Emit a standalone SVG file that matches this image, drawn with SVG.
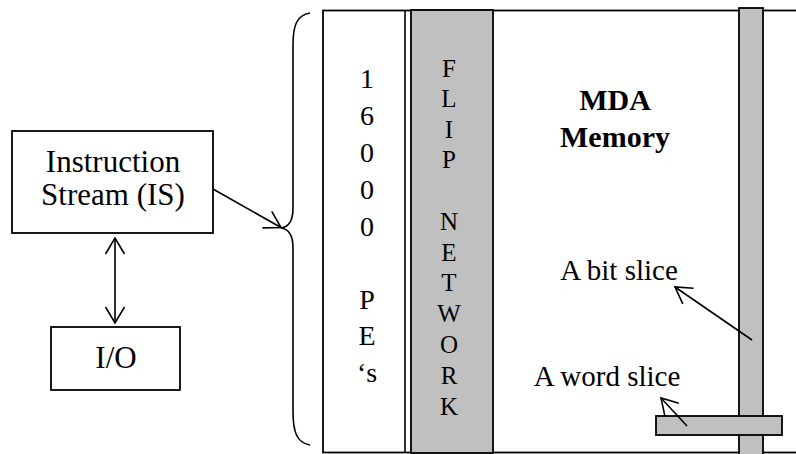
<svg xmlns="http://www.w3.org/2000/svg" width="796" height="454" viewBox="0 0 796 454" font-family="Liberation Serif">
<defs>
<style>
svg text, text, .tx{font-family:"Liberation Serif", serif !important;fill:#000;text-anchor:middle}
.box{fill:#fff;stroke:#000;stroke-width:1.8}
.gray{fill:#c0c0c0;stroke:#000;stroke-width:1.8}
.ln{fill:none;stroke:#000;stroke-width:1.6}
.bold{font-weight:bold}
</style>
<marker id="ah" viewBox="-20 -12 22 24" markerWidth="22" markerHeight="24" refX="0" refY="0" orient="auto-start-reverse" markerUnits="userSpaceOnUse" overflow="visible">
<path d="M-16,-9.5 L0,0 L-16,9.5" fill="none" stroke="#000" stroke-width="1.6"/>
</marker>
</defs>

<g id="memory-frame">
<rect x="323" y="10.5" width="480" height="442" class="box"/>
<line x1="405" y1="10.5" x2="405" y2="452.5" class="ln" stroke-width="1.8"/>
<rect x="411" y="10" width="82" height="443" class="gray"/>
</g>

<g id="pes" font-family="Liberation Serif" font-size="28">
<text class="tx" font-family="Liberation Serif" x="367" y="88">1</text>
<text class="tx" font-family="Liberation Serif" x="367" y="125">6</text>
<text class="tx" font-family="Liberation Serif" x="367" y="162">0</text>
<text class="tx" font-family="Liberation Serif" x="367" y="199">0</text>
<text class="tx" font-family="Liberation Serif" x="367" y="236">0</text>
<text class="tx" font-family="Liberation Serif" x="367" y="309">P</text>
<text class="tx" font-family="Liberation Serif" x="367" y="345">E</text>
<text class="tx" font-family="Liberation Serif" x="367" y="382">‘s</text>
</g>

<g id="flip-network" font-family="Liberation Serif" font-size="25">
<text class="tx" font-family="Liberation Serif" x="449" y="77">F</text>
<text class="tx" font-family="Liberation Serif" x="449" y="107">L</text>
<text class="tx" font-family="Liberation Serif" x="449" y="138">I</text>
<text class="tx" font-family="Liberation Serif" x="449" y="168">P</text>
<text class="tx" font-family="Liberation Serif" x="449" y="230">N</text>
<text class="tx" font-family="Liberation Serif" x="449" y="261">E</text>
<text class="tx" font-family="Liberation Serif" x="449" y="291">T</text>
<text class="tx" font-family="Liberation Serif" x="449" y="322">W</text>
<text class="tx" font-family="Liberation Serif" x="449" y="353">O</text>
<text class="tx" font-family="Liberation Serif" x="449" y="384">R</text>
<text class="tx" font-family="Liberation Serif" x="449" y="415">K</text>
</g>

<g id="mda-memory" font-family="Liberation Serif" font-size="30">
<text class="tx bold" font-family="Liberation Serif" font-weight="bold" x="615" y="110">MDA</text>
<text class="tx bold" font-family="Liberation Serif" font-weight="bold" x="615" y="147">Memory</text>
</g>

<g id="bit-slice">
<rect x="739" y="8" width="24" height="450" class="gray"/>
</g>

<g id="word-slice">
<rect x="656" y="416" width="126" height="19" class="gray"/>
</g>

<g id="instruction-stream" font-family="Liberation Serif" font-size="31">
<rect x="12" y="131" width="201" height="102" class="box"/>
<text class="tx" font-family="Liberation Serif" x="113" y="172">Instruction</text>
<text class="tx" font-family="Liberation Serif" x="113" y="205">Stream (IS)</text>
</g>

<g id="io" font-family="Liberation Serif" font-size="31">
<rect x="51" y="327" width="129" height="63" class="box"/>
<text class="tx" font-family="Liberation Serif" x="116" y="368">I/O</text>
</g>

<g id="labels" font-family="Liberation Serif" font-size="29">
<text class="tx" font-family="Liberation Serif" x="619" y="280">A bit slice</text>
<text class="tx" font-family="Liberation Serif" x="607" y="386">A word slice</text>
</g>

<g id="brace">
<path class="ln" d="M310,13 C297,15 293,25 293,45 L293,208 C293,221 289,227 281,228 C289,229 293,235 293,248 L293,412 C293,432 297,443 310,445"/>
</g>

<g id="connectors">
<line class="ln" x1="213" y1="189" x2="281" y2="227.5" marker-end="url(#ah)"/>
<line class="ln" x1="115" y1="238" x2="115" y2="323" marker-start="url(#ah)" marker-end="url(#ah)"/>
<line class="ln" x1="752" y1="340" x2="675" y2="287" marker-end="url(#ah)"/>
<line class="ln" x1="687" y1="426" x2="661" y2="398" marker-end="url(#ah)"/>
</g>
</svg>
